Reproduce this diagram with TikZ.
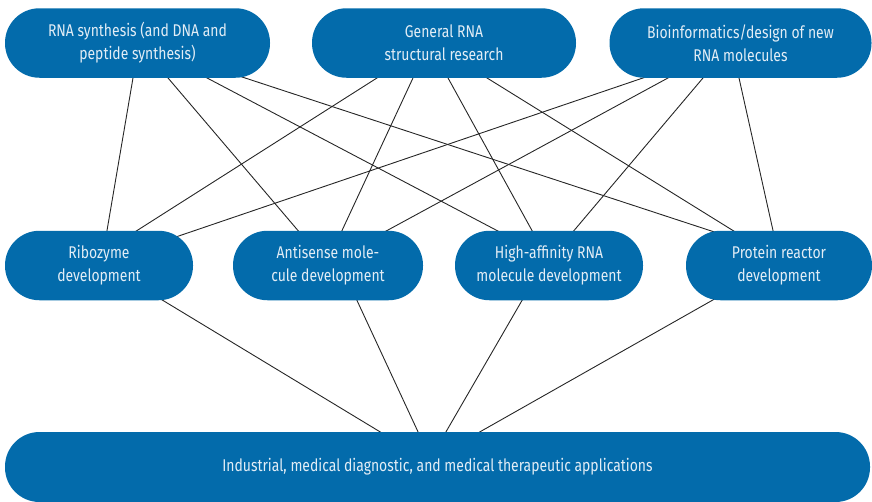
\documentclass[tikz,border=0pt]{standalone}
\usepackage{fontspec}
\setmainfont{Fira Sans}[FakeStretch=0.82]
\usetikzlibrary{backgrounds,calc}
\definecolor{boxblue}{HTML}{036BAB}
\definecolor{boxtext}{HTML}{E2EDF6}
\begin{document}
\begin{tikzpicture}[x=1pt,y=-1pt,
  pill/.style={fill=boxblue, text=boxtext, rounded corners=34.5pt,
    minimum height=69.5pt, inner sep=0pt, align=center,
    font=\fontsize{17}{23}\selectfont},
  link/.style={draw=black!85, line width=0.9pt, shorten <=-6pt, shorten >=-6pt}]
\useasboundingbox (0,0) rectangle (872,501);

% top row
\node[pill, minimum width=265pt] (t1) at (137.5,43) {RNA synthesis (and DNA and\\peptide synthesis)};
\node[pill, minimum width=264pt] (t2) at (444,43) {General RNA\\structural research};
\node[pill, minimum width=262pt] (t3) at (740.5,43) {Bioinformatics/design of new\\RNA molecules};

% middle row
\node[pill, minimum width=188pt] (m1) at (99,265.5) {Ribozyme\\development};
\node[pill, minimum width=190pt] (m2) at (328,265.5) {Antisense mole-\\cule development};
\node[pill, minimum width=188pt] (m3) at (549,265.5) {High-affinity RNA\\molecule development};
\node[pill, minimum width=186pt] (m4) at (779,265.5) {Protein reactor\\development};

% bottom bar
\node[pill, minimum width=865pt, minimum height=70pt] (bot) at (437.5,467) {Industrial, medical diagnostic, and medical therapeutic applications};

\begin{scope}[on background layer]
  % RNA synthesis
  \draw[link] ($(t1.south)+(-4.5,0)$) -- ($(m1.north)+(8,0)$);
  \draw[link] ($(t1.south)+(30.5,0)$) -- ($(m2.north)+(-30,0)$);
  \draw[link] ($(t1.south)+(69.5,0)$) -- ($(m3.north)+(-52,0)$);
  \draw[link] ($(t1.south)+(107.5,0)$) -- ($(m4.north)+(-69,0)$);
  % General RNA structural research
  \draw[link] ($(t2.south)+(-67,0)$) -- ($(m1.north)+(38,0)$);
  \draw[link] ($(t2.south)+(-31,0)$) -- ($(m2.north)+(14,0)$);
  \draw[link] ($(t2.south)+(4,0)$) -- ($(m3.north)+(-17,0)$);
  \draw[link] ($(t2.south)+(43,0)$) -- ($(m4.north)+(-46,0)$);
  % Bioinformatics
  \draw[link] ($(t3.south)+(-97.5,0)$) -- ($(m1.north)+(81,5)$);
  \draw[link] ($(t3.south)+(-72.5,0)$) -- ($(m2.north)+(59,0)$);
  \draw[link] ($(t3.south)+(-37.5,0)$) -- ($(m3.north)+(25,0)$);
  \draw[link] ($(t3.south)+(-1.5,0)$) -- ($(m4.north)+(-6,0)$);
  % middle row to applications
  \draw[link] ($(m1.south)+(64,0)$) -- ($(bot.north)+(-57.5,0)$);
  \draw[link] ($(m2.south)+(29,0)$) -- ($(bot.north)+(-19.5,0)$);
  \draw[link] ($(m3.south)+(-27,0)$) -- ($(bot.north)+(8.5,0)$);
  \draw[link] ($(m4.south)+(-67,0)$) -- ($(bot.north)+(42.5,0)$);
\end{scope}
\end{tikzpicture}
\end{document}
